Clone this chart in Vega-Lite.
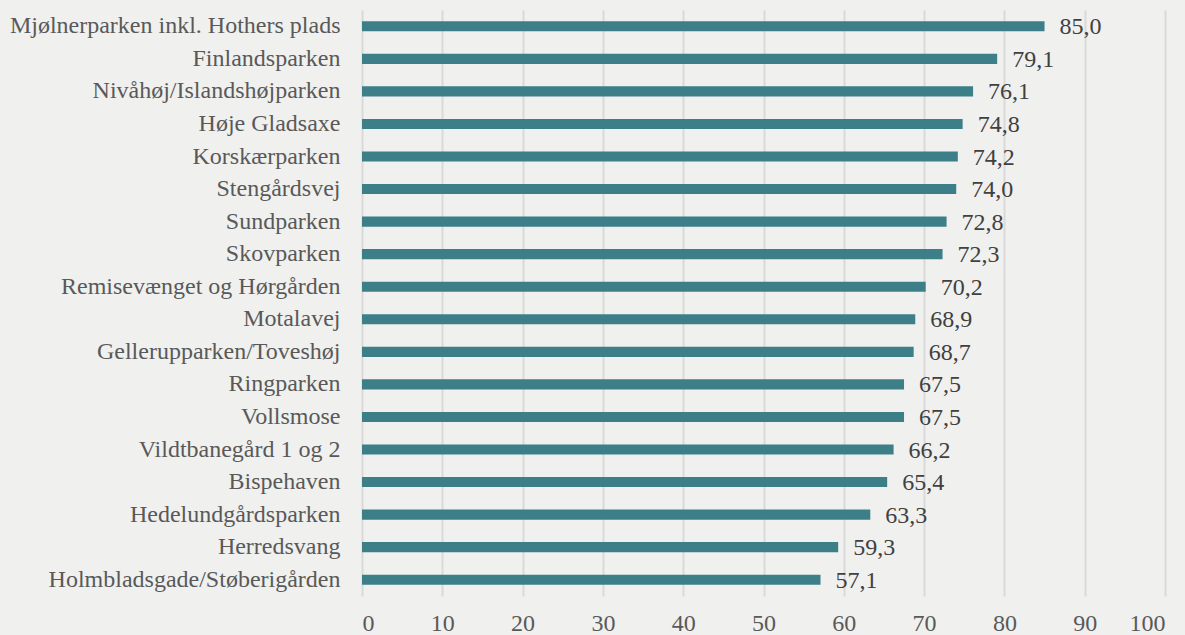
{
  "$schema": "https://vega.github.io/schema/vega-lite/v6.json",
  "width": 803,
  "height": 586,
  "autosize": {"type": "none"},
  "padding": {"left": 362, "top": 10, "right": 20, "bottom": 39},
  "background": "#f0f0ef",
  "config": {
    "view": {"stroke": null},
    "font": "Liberation Serif",
    "locale": {"number": {"decimal": ",", "thousands": ".", "grouping": [3], "currency": ["", " kr"]}}
  },
  "data": {"values": [
    {"name": "Mjølnerparken inkl. Hothers plads", "value": 85.0},
    {"name": "Finlandsparken", "value": 79.1},
    {"name": "Nivåhøj/Islandshøjparken", "value": 76.1},
    {"name": "Høje Gladsaxe", "value": 74.8},
    {"name": "Korskærparken", "value": 74.2},
    {"name": "Stengårdsvej", "value": 74.0},
    {"name": "Sundparken", "value": 72.8},
    {"name": "Skovparken", "value": 72.3},
    {"name": "Remisevænget og Hørgården", "value": 70.2},
    {"name": "Motalavej", "value": 68.9},
    {"name": "Gellerupparken/Toveshøj", "value": 68.7},
    {"name": "Ringparken", "value": 67.5},
    {"name": "Vollsmose", "value": 67.5},
    {"name": "Vildtbanegård 1 og 2", "value": 66.2},
    {"name": "Bispehaven", "value": 65.4},
    {"name": "Hedelundgårdsparken", "value": 63.3},
    {"name": "Herredsvang", "value": 59.3},
    {"name": "Holmbladsgade/Støberigården", "value": 57.1}
  ]},
  "encoding": {
    "y": {
      "field": "name", "type": "nominal", "sort": null,
      "scale": {"paddingInner": 0.69, "paddingOuter": 0.345},
      "axis": {"title": null, "domain": false, "ticks": false, "labelFontSize": 24, "labelFont": "Liberation Serif", "labelColor": "#595959", "labelPadding": 22, "labelLimit": 400}
    },
    "x": {
      "field": "value", "type": "quantitative",
      "scale": {"domain": [0, 100], "nice": false},
      "axis": {"title": null, "domain": false, "ticks": false, "values": [0,10,20,30,40,50,60,70,80,90,100], "format": "d", "labelFontSize": 24, "labelFont": "Liberation Serif", "labelColor": "#595959", "labelPadding": 15, "gridColor": "#d9d9d9", "gridWidth": 2}
    }
  },
  "layer": [
    {"mark": {"type": "bar", "color": "#3d7f89"}},
    {"mark": {"type": "text", "align": "left", "dx": 15, "dy": 1, "fontSize": 24, "font": "Liberation Serif", "color": "#404040"},
     "encoding": {"text": {"field": "value", "type": "quantitative", "format": ".1f"}}}
  ]
}
